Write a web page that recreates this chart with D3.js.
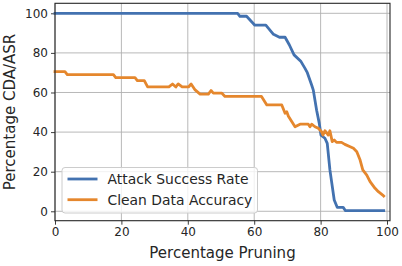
<!DOCTYPE html>
<html>
<head>
<meta charset="utf-8">
<script src="https://cdn.jsdelivr.net/npm/d3@7"></script>
<style>
  body { margin: 0; background: #fff; }
  svg text { font-family: "DejaVu Sans", sans-serif; fill: #262626; }
</style>
</head>
<body>
<svg id="chart" width="402" height="266"></svg>
<script>
// pruning percentage / value pairs
var asrX = [0, 55, 55.7, 57.7, 60.2, 63.5, 65.8, 67.6, 69.3, 70.6, 72, 74.1, 75.3, 76, 77.3, 77.8, 78.8, 79.6, 80.1, 81.3, 82, 82.8, 84.1, 85, 86.8, 87.5, 99];
var asrY = [100, 100, 98.5, 98.5, 94, 94, 89.4, 87.9, 87.9, 84, 79, 75.6, 72.2, 70, 63.8, 61.2, 51, 44.4, 38.5, 36.9, 34.3, 20.9, 5.7, 2, 2, 0.3, 0.3];

var cdaX = [0, 3, 3.7, 17.6, 18.3, 24.1, 24.8, 26.9, 27.9, 34.3, 35.4, 36.4, 37.1, 38.3, 40.2, 41, 42.2, 43.7, 46.2, 47, 47.7, 50.2, 51.2, 62.2, 63.8, 68.3, 69.3, 69.8, 70.3, 71.3, 72.3, 73.8, 76.3, 76.8, 77.3, 78.3, 79.3, 80.3, 80.7, 81.3, 82.3, 82.8, 83.5, 84.1, 84.8, 86.3, 87.3, 88.9, 89.9, 90.9, 91.9, 92.7, 93.9, 94.9, 96.4, 97.4, 98.7, 99];
var cdaY = [70.5, 70.5, 69, 69, 67.5, 67.5, 66, 66, 62.8, 62.8, 64.3, 62.8, 64.3, 62.8, 62.8, 64.3, 61.3, 59.2, 59.2, 61, 59.7, 59.7, 58, 58, 53.7, 53.7, 49.5, 50.3, 48, 45.3, 42.7, 44, 44, 42.7, 44, 42.7, 41.9, 40.2, 38.5, 40.7, 38.5, 40.7, 35.2, 36, 34.8, 34.8, 33.8, 32.6, 31.8, 30.1, 25.9, 20.9, 18.3, 15, 11.6, 9.9, 8.2, 7.7];

var xTicks = [0, 20, 40, 60, 80, 100];
var yTicks = [0, 20, 40, 60, 80, 100];

var seriesNames = ["Attack Success Rate", "Clean Data Accuracy"];
var seriesColors = ["#4372b0", "#e5872d"];

var mLeft = 55, mRight = 390, mTop = 3.3, mBottom = 220.7;
var svg = d3.select("#chart");

var x = d3.scaleLinear().domain([0, 100.9]).range([mLeft, mRight]);
var y = d3.scaleLinear().domain([-4.75, 105.05]).range([mBottom, mTop]);

// grid
svg.append("g").selectAll("line").data(xTicks).enter().append("line")
    .attr("x1", function(d) { return x(d); }).attr("x2", function(d) { return x(d); })
    .attr("y1", mTop).attr("y2", mBottom)
    .attr("stroke", "#b0b0b0").attr("stroke-width", 0.9);
svg.append("g").selectAll("line").data(yTicks).enter().append("line")
    .attr("x1", mLeft).attr("x2", mRight)
    .attr("y1", function(d) { return y(d); }).attr("y2", function(d) { return y(d); })
    .attr("stroke", "#b0b0b0").attr("stroke-width", 0.9);

// axes
var xAxis = svg.append("g")
    .attr("transform", "translate(0," + mBottom + ")")
    .call(d3.axisBottom(x).tickValues(xTicks).tickSize(4).tickPadding(3));
var yAxis = svg.append("g")
    .attr("transform", "translate(" + mLeft + ",0)")
    .call(d3.axisLeft(y).tickValues(yTicks).tickSize(4).tickPadding(3));
[xAxis, yAxis].forEach(function(a) {
    a.select(".domain").remove();
    a.selectAll("line").attr("stroke", "#262626").attr("stroke-width", 0.9);
    a.selectAll("text").style("font-size", "12px").attr("fill", "#262626");
});

// lines
var line = d3.line()
    .x(function(d) { return x(d[0]); })
    .y(function(d) { return y(d[1]); });
var asr = d3.zip(asrX, asrY), cda = d3.zip(cdaX, cdaY);
[asr, cda].forEach(function(s, i) {
    svg.append("path").datum(s)
        .attr("d", line)
        .attr("fill", "none")
        .attr("stroke", seriesColors[i])
        .attr("stroke-width", 2.8)
        .attr("stroke-linejoin", "round")
        .attr("stroke-linecap", "square");
});

// frame
svg.append("rect")
    .attr("x", mLeft).attr("y", mTop)
    .attr("width", mRight - mLeft).attr("height", mBottom - mTop)
    .attr("fill", "none").attr("stroke", "#262626").attr("stroke-width", 1.1);

// axis labels
svg.append("text")
    .attr("x", (mLeft + mRight) / 2).attr("y", 258)
    .attr("text-anchor", "middle")
    .style("font-size", "15px")
    .text("Percentage Pruning");
svg.append("text")
    .attr("transform", "translate(15," + ((mTop + mBottom) / 2) + ") rotate(-90)")
    .attr("text-anchor", "middle")
    .style("font-size", "15px")
    .text("Percentage CDA/ASR");

// legend
var legend = svg.append("g");
legend.append("rect")
    .attr("x", 62).attr("y", 167.5).attr("width", 195.5).attr("height", 45.5)
    .attr("rx", 3)
    .attr("fill", "#fff").attr("fill-opacity", 0.8)
    .attr("stroke", "#cccccc").attr("stroke-width", 1);
seriesNames.forEach(function(name, i) {
    var ly = 179 + i * 20.7;
    legend.append("line")
        .attr("x1", 67.5).attr("x2", 97.5)
        .attr("y1", ly).attr("y2", ly)
        .attr("stroke", seriesColors[i]).attr("stroke-width", 2.8);
    legend.append("text")
        .attr("x", 107.5).attr("y", ly + 5)
        .style("font-size", "13.9px")
        .text(name);
});
</script>
</body>
</html>
